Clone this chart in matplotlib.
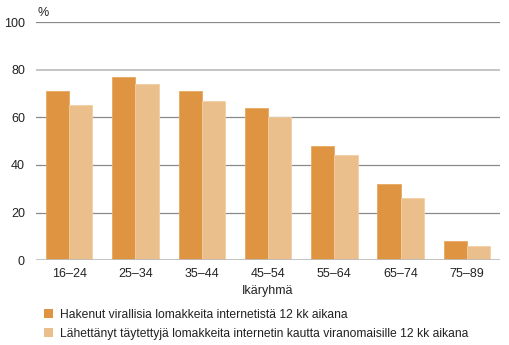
import numpy as np
import matplotlib.pyplot as plt
from matplotlib.patches import Patch

plt.rcParams['font.family'] = ['Liberation Sans', 'DejaVu Sans']
plt.rcParams['font.size'] = 9

groups = ['16–24', '25–34', '35–44', '45–54', '55–64', '65–74', '75–89']
haettu = [71, 77, 71, 64, 48, 32, 8]
lahetetty = [65, 74, 67, 60, 44, 26, 6]
labels = ['Hakenut virallisia lomakkeita internetistä 12 kk aikana',
          'Lähettänyt täytettyjä lomakkeita internetin kautta viranomaisille 12 kk aikana']
colors = ['#de9441', '#ebbf8b']

fig = plt.figure(figsize=(5.1, 3.45), dpi=100)
ax = fig.add_axes([0.0706, 0.246, 0.91, 0.69])

x = np.arange(len(groups))
w = 0.35
ax.bar(x - w/2, haettu, w, color=colors[0], edgecolor='#e8a862', linewidth=0.6, zorder=3)
ax.bar(x + w/2, lahetetty, w, color=colors[1], edgecolor='#f2cfa3', linewidth=0.6, zorder=3)

ax.set_xlim(-0.5, len(groups) - 0.5)
ax.set_ylim(0, 100)
ax.set_yticks([0, 20, 40, 60, 80, 100])
for v in [20, 40, 60, 100]:
    ax.axhline(v, color='#8a8a8a', linewidth=0.9, zorder=1)
ax.axhline(80, color='#c4c4c4', linewidth=1.4, zorder=1)
ax.axhline(0, color='#bdbdbd', linewidth=2.0, zorder=4)

ax.set_xticks(x)
ax.set_xticklabels(groups)
ax.tick_params(length=0, pad=6, labelsize=9, colors='#222222')
ax.tick_params(axis='y', pad=8)
for s in ax.spines.values():
    s.set_visible(False)

ax.set_xlabel('Ikäryhmä', fontsize=9, labelpad=3, color='#222222')
fig.text(0.073, 0.955, '%', fontsize=9, color='#222222')

handles = [Patch(facecolor=c, edgecolor='none') for c in colors]
fig.legend(handles, labels, loc='upper left', bbox_to_anchor=(0.087, 0.105),
           frameon=False, handlelength=0.75, handleheight=0.75, handletextpad=0.55,
           labelspacing=0.6, fontsize=8.7, borderaxespad=0, borderpad=0,
           labelcolor='#222222')

fig.savefig('out.png', dpi=100)
